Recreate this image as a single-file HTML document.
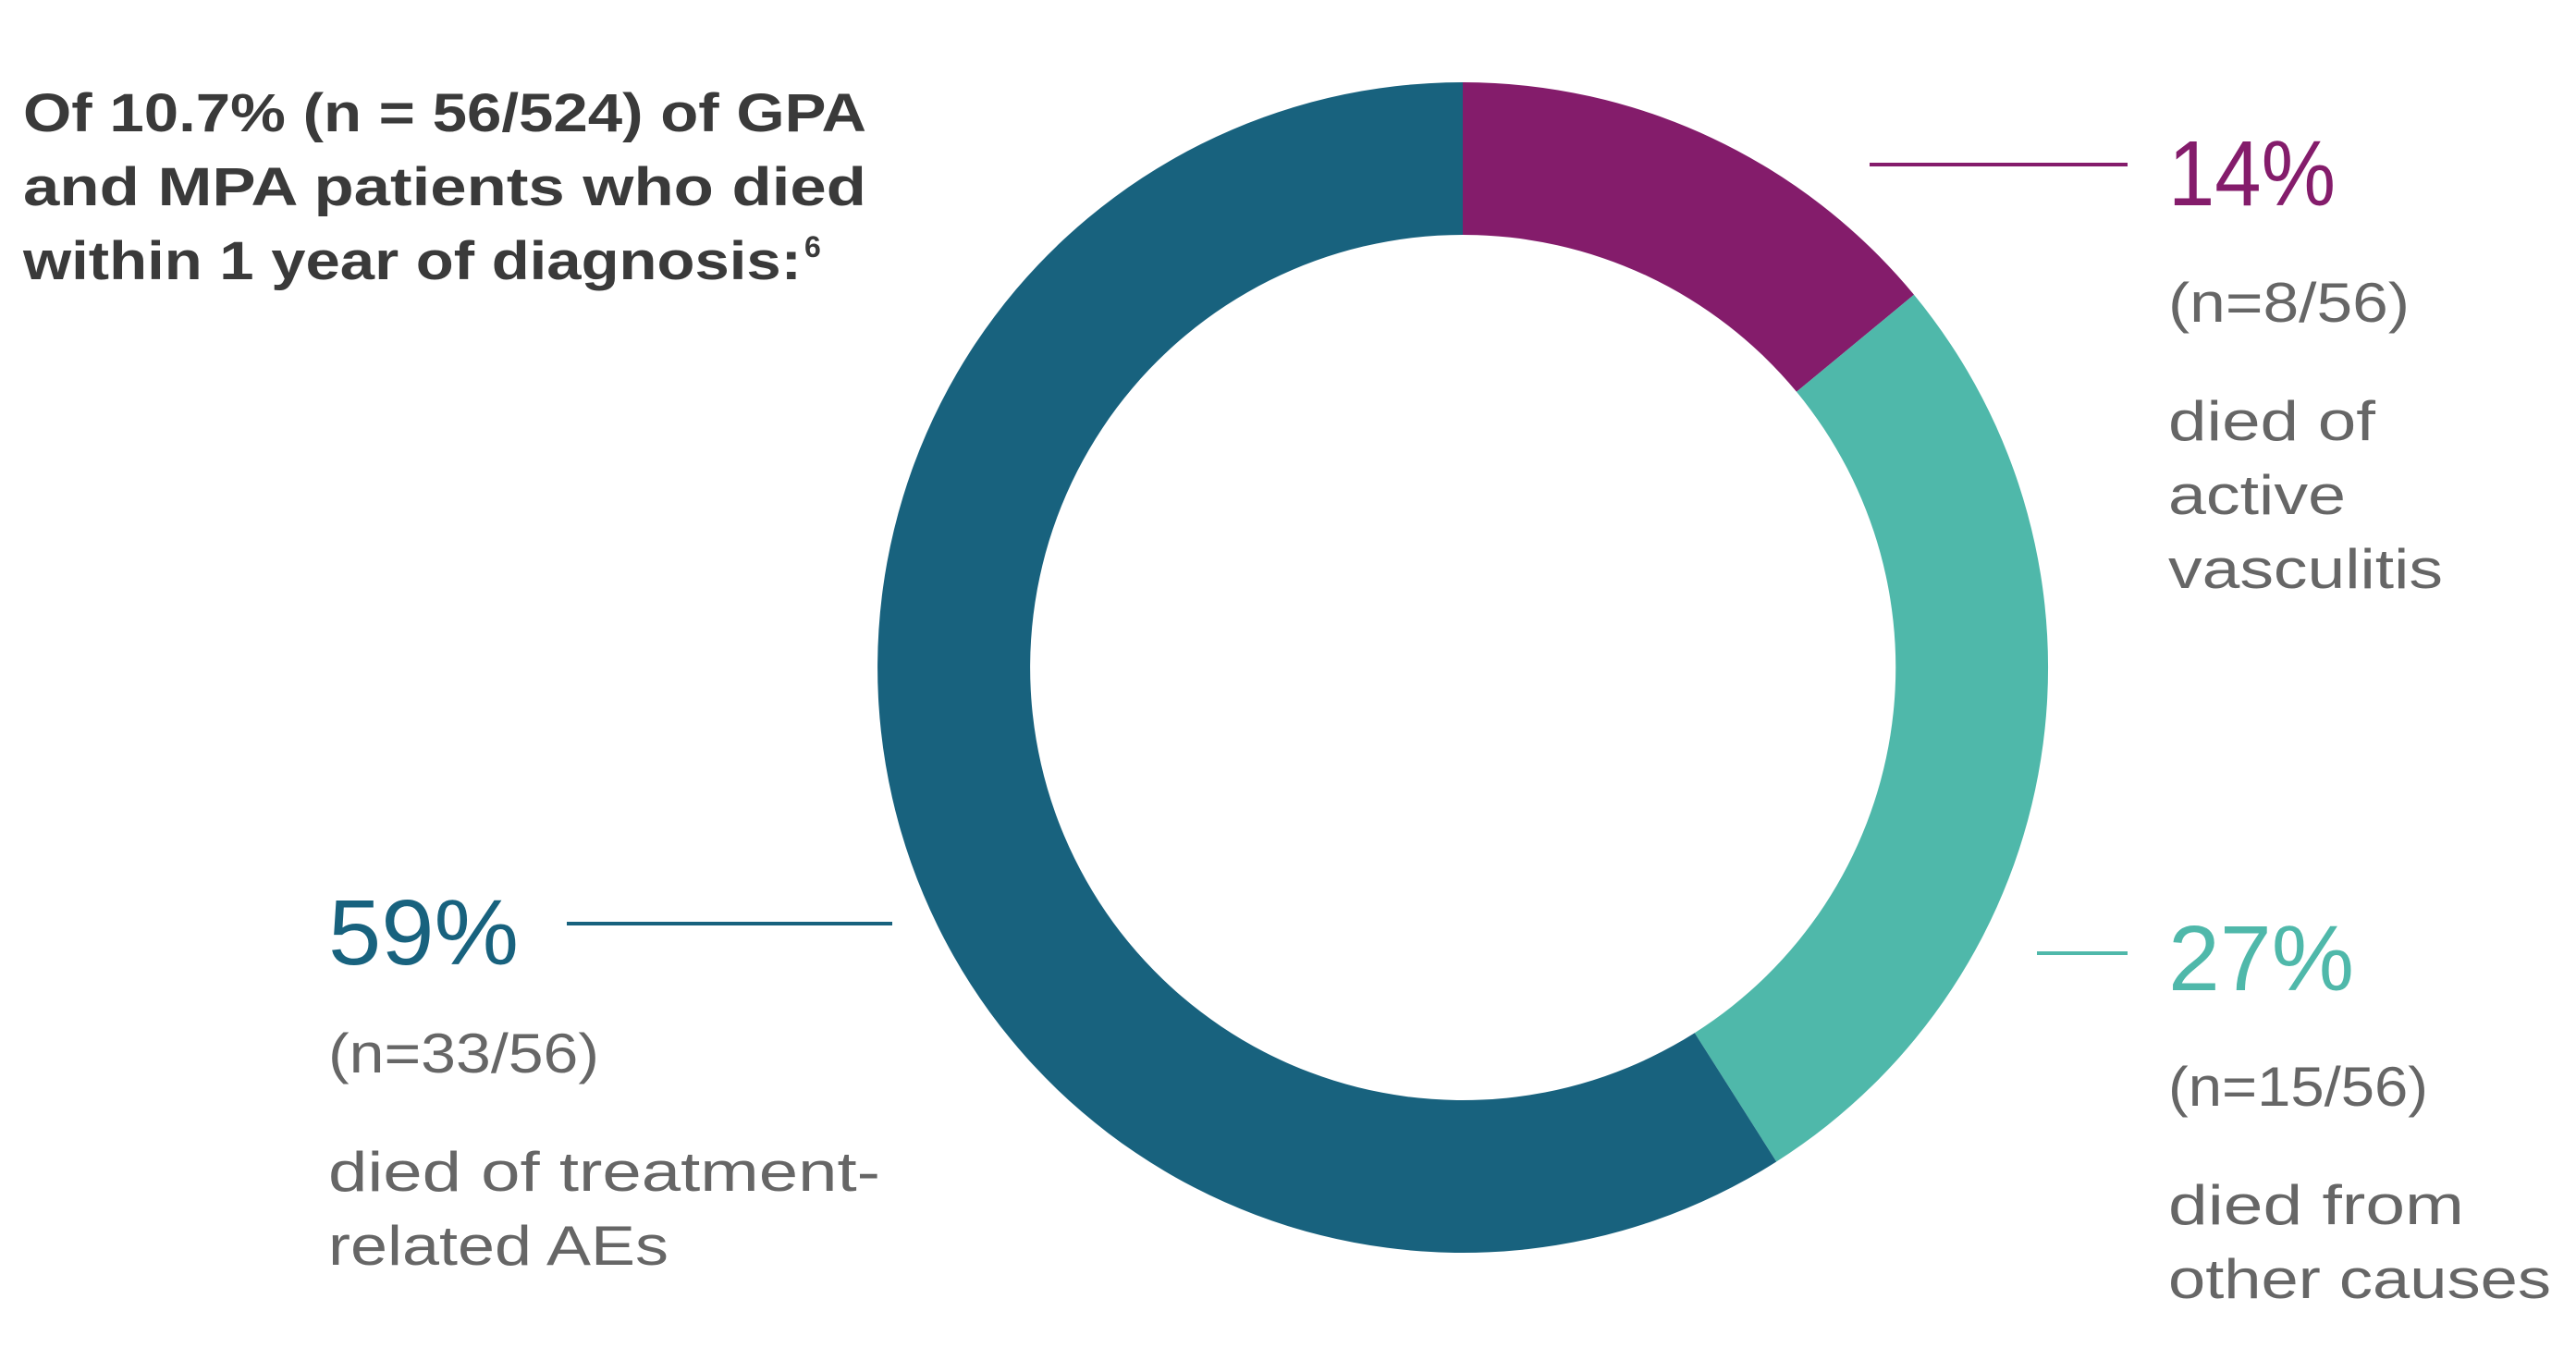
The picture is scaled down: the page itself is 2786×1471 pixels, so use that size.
<!DOCTYPE html>
<html><head><meta charset="utf-8"><style>
html,body{margin:0;padding:0;background:#fff;}
svg{display:block;}
text{font-family:"Liberation Sans",sans-serif;}
</style></head><body>
<svg width="2786" height="1471" viewBox="0 0 2786 1471" xmlns="http://www.w3.org/2000/svg">
<rect width="2786" height="1471" fill="#fff"/>
<g transform="translate(1582,722)">
<!-- purple 0 to 50.4deg -->
<path d="M0,-633 A633,633 0 0 1 488.0,-403.2 L361.0,-298.2 A468,468 0 0 0 0,-468 Z" fill="#841C6B"/>
<!-- teal 50.4 to 147.6 -->
<path d="M488.0,-403.2 A633,633 0 0 1 339.2,534.5 L250.8,395.2 A468,468 0 0 0 361.0,-298.2 Z" fill="#4FB8AA"/>
<!-- blue 147.6 to 360 -->
<path d="M339.2,534.5 A633,633 0 1 1 0,-633 L0,-468 A468,468 0 1 0 250.8,395.2 Z" fill="#18627E"/>
</g>
<line x1="2022" y1="178" x2="2301" y2="178" stroke="#841C6B" stroke-width="4"/>
<line x1="2203" y1="1031" x2="2301" y2="1031" stroke="#4FB8AA" stroke-width="4"/>
<line x1="613" y1="999" x2="965" y2="999" stroke="#18627E" stroke-width="4"/>
<g font-weight="bold" font-size="58" fill="#3a3a3a">
<text x="25" y="142" textLength="912" lengthAdjust="spacingAndGlyphs">Of 10.7% (n = 56/524) of GPA</text>
<text x="25" y="222" textLength="912" lengthAdjust="spacingAndGlyphs">and MPA patients who died</text>
<text x="25" y="302" textLength="842" lengthAdjust="spacingAndGlyphs">within 1 year of diagnosis:</text>
<text x="870" y="278" font-size="32">6</text>
</g>
<g font-size="100">
<text x="2345" y="222" fill="#841C6B" textLength="181" lengthAdjust="spacingAndGlyphs">14%</text>
<text x="2345" y="1071" fill="#4FB8AA" textLength="201" lengthAdjust="spacingAndGlyphs">27%</text>
<text x="355" y="1043" fill="#18627E" textLength="206" lengthAdjust="spacingAndGlyphs">59%</text>
</g>
<g font-size="60" fill="#666">
<text x="2345" y="348" textLength="261" lengthAdjust="spacingAndGlyphs">(n=8/56)</text>
<text x="2345" y="476" textLength="224" lengthAdjust="spacingAndGlyphs">died of</text>
<text x="2345" y="556" textLength="192" lengthAdjust="spacingAndGlyphs">active</text>
<text x="2345" y="636" textLength="297" lengthAdjust="spacingAndGlyphs">vasculitis</text>
<text x="2345" y="1196" textLength="281" lengthAdjust="spacingAndGlyphs">(n=15/56)</text>
<text x="2345" y="1324" textLength="320" lengthAdjust="spacingAndGlyphs">died from</text>
<text x="2345" y="1404" textLength="414" lengthAdjust="spacingAndGlyphs">other causes</text>
<text x="355" y="1160" textLength="293" lengthAdjust="spacingAndGlyphs">(n=33/56)</text>
<text x="355" y="1288" textLength="597" lengthAdjust="spacingAndGlyphs">died of treatment-</text>
<text x="355" y="1368" textLength="368" lengthAdjust="spacingAndGlyphs">related AEs</text>
</g>
</svg>
</body></html>
